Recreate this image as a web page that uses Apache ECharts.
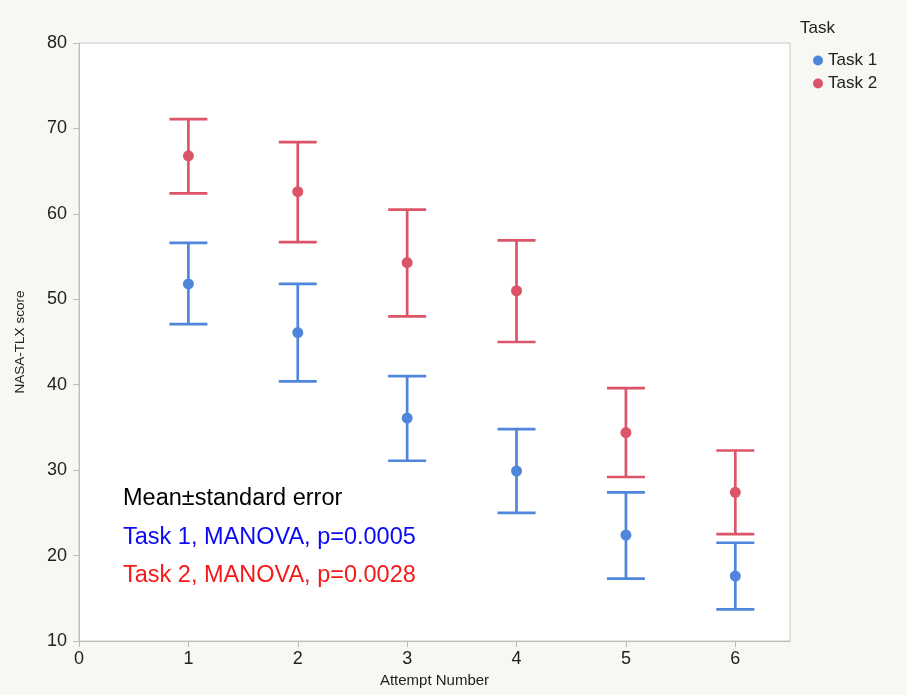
<!DOCTYPE html>
<html>
<head>
<meta charset="utf-8">
<script src="https://cdn.jsdelivr.net/npm/echarts@6/dist/echarts.min.js"></script>
<style>
html,body{margin:0;padding:0;background:#f7f7f4;}
#main{width:907px;height:695px;}
</style>
</head>
<body>
<div id="main"></div>
<script>
const attempts = [1, 2, 3, 4, 5, 6];
const task1Mean  = [51.8, 46.1, 36.1, 29.9, 22.4, 17.6];
const task1Upper = [56.6, 51.8, 41.0, 34.8, 27.4, 21.5];
const task1Lower = [47.1, 40.4, 31.1, 25.0, 17.3, 13.7];
const task2Mean  = [66.8, 62.6, 54.3, 51.0, 34.4, 27.4];
const task2Upper = [71.1, 68.4, 60.5, 56.9, 39.6, 32.3];
const task2Lower = [62.4, 56.7, 48.0, 45.0, 29.2, 22.5];
const xTicks = [0, 1, 2, 3, 4, 5, 6];

const blue = '#4f86dc';
const red = '#dc5468';
const font = 'Liberation Sans, Arial, Helvetica, sans-serif';

function errorSeries(name, color, upper, lower) {
  return {
    name: name,
    type: 'custom',
    data: attempts.map((a, i) => [a, lower[i], upper[i]]),
    encode: {x: 0, y: [1, 2]},
    renderItem: function (params, api) {
      const x = api.value(0);
      const lo = api.coord([x, api.value(1)]);
      const hi = api.coord([x, api.value(2)]);
      const hw = 19;
      const st = {stroke: color, lineWidth: 2.7};
      return {
        type: 'group',
        children: [
          {type: 'line', shape: {x1: lo[0], y1: lo[1], x2: hi[0], y2: hi[1]}, style: st},
          {type: 'line', shape: {x1: lo[0] - hw, y1: lo[1], x2: lo[0] + hw, y2: lo[1]}, style: st},
          {type: 'line', shape: {x1: hi[0] - hw, y1: hi[1], x2: hi[0] + hw, y2: hi[1]}, style: st}
        ]
      };
    },
    silent: true,
    z: 2
  };
}

const chart = echarts.init(document.getElementById('main'));
chart.setOption({
  backgroundColor: '#f7f7f4',
  animation: false,
  textStyle: {fontFamily: font},
  grid: {left: 79, top: 43, right: 117, bottom: 54, show: true, backgroundColor: '#ffffff', borderColor: '#c8c8c8', borderWidth: 1},
  legend: {
    orient: 'vertical', left: 808, top: 47, itemGap: 6,
    icon: 'circle', itemWidth: 10, itemHeight: 10, itemTextGap: 13,
    textStyle: {fontSize: 17, color: '#222', fontFamily: font},
    data: [{name: 'Task 1', itemStyle: {color: blue}}, {name: 'Task 2', itemStyle: {color: red}}]
  },
  xAxis: {
    type: 'value', min: 0, max: 6.5, interval: 1,
    name: 'Attempt Number', nameLocation: 'middle', nameGap: 32,
    nameTextStyle: {fontSize: 15, color: '#222', fontFamily: font},
    axisLine: {show: true, lineStyle: {color: '#bdbdbd'}},
    axisTick: {show: true, length: 6, lineStyle: {color: '#bdbdbd'}, customValues: xTicks},
    axisLabel: {fontSize: 18, color: '#222', margin: 9, customValues: xTicks},
    splitLine: {show: false}
  },
  yAxis: {
    type: 'value', min: 10, max: 80, interval: 10,
    name: 'NASA-TLX score', nameLocation: 'middle', nameGap: 52,
    nameTextStyle: {fontSize: 13.5, color: '#222', fontFamily: font},
    axisLine: {show: true, lineStyle: {color: '#bdbdbd'}},
    axisTick: {show: true, length: 6, lineStyle: {color: '#bdbdbd'}},
    axisLabel: {fontSize: 18, color: '#222', margin: 12},
    splitLine: {show: false}
  },
  graphic: [
    {type: 'text', left: 800, top: 20, style: {text: 'Task', fontSize: 17, fill: '#222', fontFamily: font}},
    {type: 'text', left: 123, top: 487, style: {text: 'Mean\u00b1standard error', fontSize: 23.5, fill: '#000', fontFamily: font}},
    {type: 'text', left: 123, top: 526, style: {text: 'Task 1, MANOVA, p=0.0005', fontSize: 23.5, fill: '#0a0af5', fontFamily: font}},
    {type: 'text', left: 123, top: 564, style: {text: 'Task 2, MANOVA, p=0.0028', fontSize: 23.5, fill: '#f51a1a', fontFamily: font}}
  ],
  series: [
    errorSeries('Task 1 err', blue, task1Upper, task1Lower),
    errorSeries('Task 2 err', red, task2Upper, task2Lower),
    {name: 'Task 1', type: 'scatter', symbolSize: 11, itemStyle: {color: blue, opacity: 1}, data: attempts.map((a, i) => [a, task1Mean[i]]), z: 3},
    {name: 'Task 2', type: 'scatter', symbolSize: 11, itemStyle: {color: red, opacity: 1}, data: attempts.map((a, i) => [a, task2Mean[i]]), z: 3}
  ]
});
</script>
</body>
</html>
